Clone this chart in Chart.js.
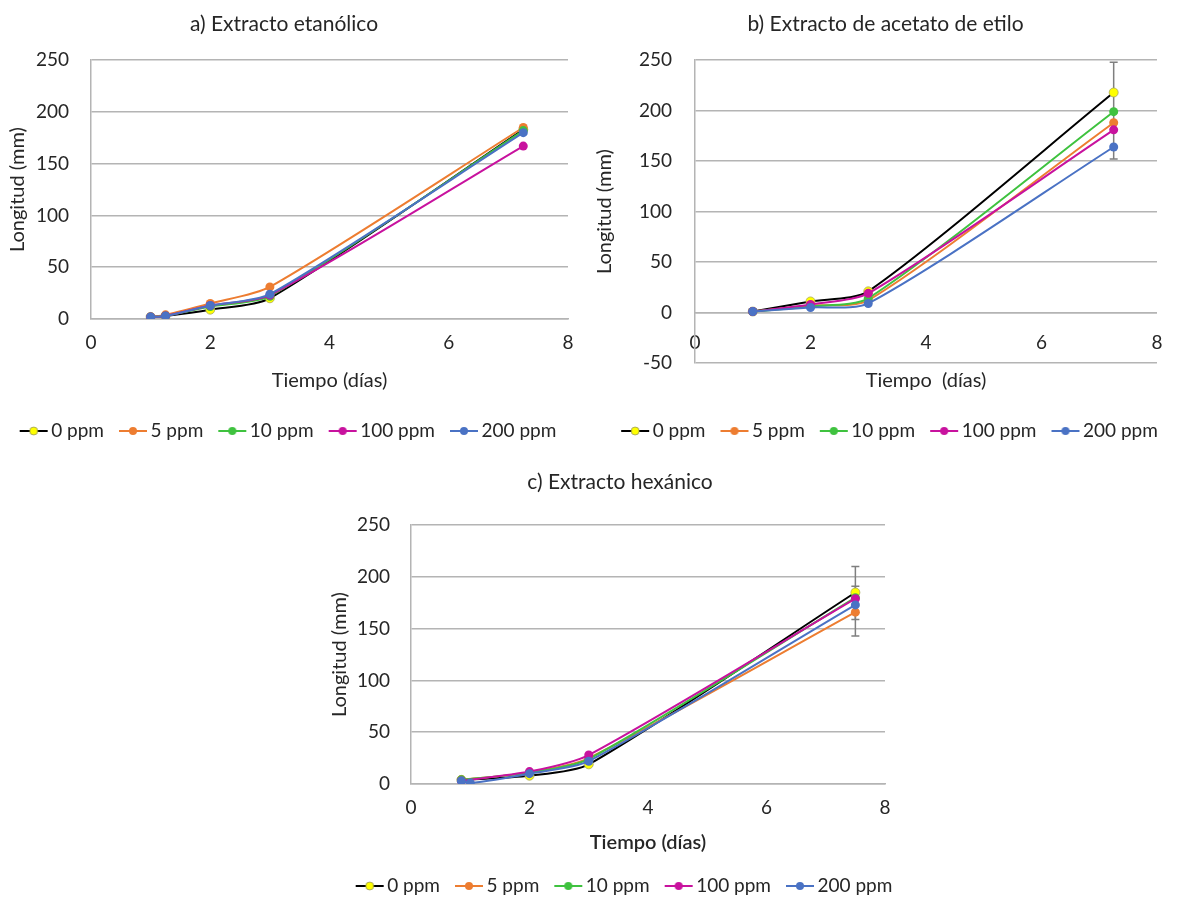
<!DOCTYPE html>
<html lang="es">
<head>
<meta charset="UTF-8">
<title>Longitud vs tiempo</title>
<script src="https://cdn.jsdelivr.net/npm/chart.js"></script>
<style>
  body { margin: 0; background: #fff; width: 1181px; height: 898px; position: relative; overflow: hidden; }
  .panel { position: absolute; }
</style>
</head>
<body>
<div class="panel" style="left:0;top:0;width:590px;height:455px"><canvas id="grafA"></canvas></div>
<div class="panel" style="left:590px;top:0;width:591px;height:455px"><canvas id="grafB"></canvas></div>
<div class="panel" style="left:300px;top:458px;width:640px;height:452px"><canvas id="grafC"></canvas></div>
<script>
// series (concentraciones)
var series = ["0 ppm", "5 ppm", "10 ppm", "100 ppm", "200 ppm"];

// a) Extracto etanólico
var diasA = [1, 1.25, 2, 3, 7.25];
var etanol0 = [2, 3, 9, 20, 183];
var etanol5 = [2, 4, 15, 31, 185];
var etanol10 = [2, 3, 12, 22, 182];
var etanol100 = [2, 3, 13, 23, 167];
var etanol200 = [2, 3, 13, 24, 180];

// b) Extracto de acetato de etilo
var diasB = [1, 2, 3, 7.25];
var acetato0 = [1, 11, 21, 218];
var acetato5 = [1, 7, 12, 188];
var acetato10 = [1, 6, 14, 199];
var acetato100 = [1, 8, 19, 181];
var acetato200 = [1, 5, 9, 164];
var barrasXB = [7.25];
var barrasMinB = [152];
var barrasMaxB = [248];

// c) Extracto hexánico
var diasC = [0.85, 2, 3, 7.5];
var diasC200 = [0.85, 1, 2, 3, 7.5];
var hexano0 = [4, 8, 19, 185];
var hexano5 = [4, 11, 25, 166];
var hexano10 = [4, 11, 24, 180];
var hexano100 = [3, 12, 28, 179];
var hexano200 = [3, 1, 10, 22, 173];
var barrasXC = [7.5, 7.5];
var barrasMinC = [143, 159];
var barrasMaxC = [210, 191];

// estilos
var coresLinha = ['#000000', '#ED7D31', '#3FC23F', '#C8129E', '#4A72C4'];
var coresPonto = ['#FFFF00', '#ED7D31', '#3FC23F', '#C8129E', '#4A72C4'];
var fonte = 'Lato, "Open Sans", sans-serif';
var corTexto = '#262626';
var corGrade = '#B4B4B4';

// imagem da legenda: linha com ponto no meio
function iconeLegenda(i) {
  var c = document.createElement('canvas');
  c.width = 44; c.height = 12;
  var ctx = c.getContext('2d');
  ctx.strokeStyle = coresLinha[i];
  ctx.lineWidth = 2;
  ctx.beginPath(); ctx.moveTo(15, 6); ctx.lineTo(43, 6); ctx.stroke();
  ctx.fillStyle = coresPonto[i];
  ctx.beginPath(); ctx.arc(29, 6, 4, 0, Math.PI * 2); ctx.fill();
  if (i == 0) { ctx.strokeStyle = '#9a9a5a'; ctx.lineWidth = 0.8; ctx.stroke(); }
  return c;
}
var icones = series.map(function (s, i) { return iconeLegenda(i); });

function montarDatasets(listaX, listaY) {
  return series.map(function (nome, i) {
    var xs = listaX[i];
    return {
      label: nome,
      data: listaY[i].map(function (y, j) { return { x: xs[j], y: y }; }),
      yAxisID: 'y',
      borderColor: coresLinha[i],
      backgroundColor: coresPonto[i],
      pointBackgroundColor: coresPonto[i],
      pointBorderColor: i == 0 ? '#a8a860' : coresPonto[i],
      pointBorderWidth: i == 0 ? 0.8 : 0,
      pointRadius: 4.5,
      borderWidth: 2,
      tension: 0.25,
      order: series.length - i
    };
  });
}

// barras de erro desenhadas com as escalas do grafico
function pluginBarras(xs, mins, maxs) {
  return {
    id: 'barrasErro',
    beforeDatasetsDraw: function (chart) {
      var ctx = chart.ctx, sx = chart.scales.x, sy = chart.scales.y;
      ctx.save();
      ctx.strokeStyle = '#7F7F7F';
      ctx.lineWidth = 1.5;
      for (var i = 0; i < xs.length; i++) {
        var px = sx.getPixelForValue(xs[i]);
        var p1 = sy.getPixelForValue(mins[i]);
        var p2 = sy.getPixelForValue(maxs[i]);
        ctx.beginPath();
        ctx.moveTo(px, p1); ctx.lineTo(px, p2);
        ctx.moveTo(px - 4, p1); ctx.lineTo(px + 4, p1);
        ctx.moveTo(px - 4, p2); ctx.lineTo(px + 4, p2);
        ctx.stroke();
      }
      ctx.restore();
    }
  };
}

function crearGrafico(id, titulo, tituloX, datasets, yMin, cfg, plugins) {
  var xScale = {
    type: 'linear', min: 0, max: 8,
    position: cfg.ejeEnCero ? { y: 0 } : 'bottom',
    grid: { display: false, drawTicks: false },
    border: { display: true, color: corGrade, width: 1.5 },
    ticks: { stepSize: 2, padding: cfg.padTickX, color: corTexto, font: { family: fonte, size: 19 } },
    title: { display: true, text: tituloX, color: corTexto, padding: { top: 0, bottom: cfg.padTituloX },
             font: { family: fonte, size: 20, weight: cfg.tituloXNegrita ? '600' : 'normal' } },
    afterFit: function (s) { s.height = cfg.altoX; }
  };
  var yScale = {
    type: 'linear', min: yMin, max: 250, position: 'left',
    grid: { color: corGrade, lineWidth: 1.5, drawTicks: false },
    border: { display: true, color: corGrade, width: 1.5 },
    ticks: { stepSize: 50, padding: cfg.padTickY, color: corTexto, font: { family: fonte, size: 19 } },
    title: { display: true, text: 'Longitud (mm)', color: corTexto, padding: { top: cfg.padTituloY, bottom: 0 },
             font: { family: fonte, size: 20 } },
    afterFit: function (s) { s.width = cfg.anchoY; }
  };
  var escalas = { x: xScale, y: yScale };
  if (cfg.margenDer) {
    // eje vacio a la derecha: solo reserva espacio para centrar la leyenda
    escalas.yVacio = {
      type: 'linear', position: 'right', min: 0, max: 1,
      grid: { display: false }, border: { display: false }, ticks: { display: false },
      afterFit: function (s) { s.width = cfg.margenDer; }
    };
  }
  return new Chart(document.getElementById(id), {
    type: 'line',
    data: { datasets: datasets },
    options: {
      responsive: true,
      maintainAspectRatio: false,
      animation: false,
      layout: { padding: cfg.padding },
      scales: escalas,
      plugins: {
        title: { display: true, text: titulo, color: corTexto, font: { family: fonte, size: 21, weight: 'normal' },
                 padding: { top: cfg.padTitulo[0], bottom: cfg.padTitulo[1] } },
        tooltip: { enabled: false },
        legend: {
          position: 'bottom',
          title: { display: cfg.espacoLeyenda > 0, text: ' ', font: { size: 10 },
                   padding: { top: cfg.espacoLeyenda, bottom: 0 } },
          labels: {
            usePointStyle: true, pointStyleWidth: 30, padding: 7,
            color: corTexto, font: { family: fonte, size: 19 },
            generateLabels: function (chart) {
              return chart.data.datasets.map(function (d, i) {
                return { text: d.label, pointStyle: icones[i], datasetIndex: i, fontColor: corTexto,
                         lineWidth: 0, strokeStyle: 'transparent', fillStyle: 'transparent', hidden: false };
              });
            }
          }
        }
      }
    },
    plugins: plugins || []
  });
}

crearGrafico('grafA', 'a) Extracto etanólico', 'Tiempo (días)',
  montarDatasets([diasA, diasA, diasA, diasA, diasA], [etanol0, etanol5, etanol10, etanol100, etanol200]), 0,
  { anchoY: 91, altoX: 95.5, padTickX: 12, padTickY: 22, padTituloX: 21.5, padTituloY: 6, padTitulo: [12, 23],
    espacoLeyenda: 0, padding: { left: 0, right: 22, top: 0, bottom: 4.5 } });

crearGrafico('grafB', 'b) Extracto de acetato de etilo', 'Tiempo  (días)',
  montarDatasets([diasB, diasB, diasB, diasB, diasB], [acetato0, acetato5, acetato10, acetato100, acetato200]), -50,
  { anchoY: 105, altoX: 80, padTickX: 18.5, padTickY: 23, padTituloX: 0, padTituloY: 3, padTitulo: [12, 23],
    espacoLeyenda: 39.5, ejeEnCero: true, padding: { left: 0, right: 0, top: 0, bottom: 4.5 } },
  [pluginBarras(barrasXB, barrasMinB, barrasMaxB)]);

crearGrafico('grafC', 'c) Extracto hexánico', 'Tiempo (días)',
  montarDatasets([diasC, diasC, diasC, diasC, diasC200], [hexano0, hexano5, hexano10, hexano100, hexano200]), 0,
  { anchoY: 111, altoX: 85.5, padTickX: 12.5, padTickY: 21, padTituloX: 14.5, padTituloY: 28, padTitulo: [12, 30],
    espacoLeyenda: 0, tituloXNegrita: true, margenDer: 55, padding: { left: 0, right: 0, top: 0, bottom: 4.5 } },
  [pluginBarras(barrasXC, barrasMinC, barrasMaxC)]);
</script>
</body>
</html>
